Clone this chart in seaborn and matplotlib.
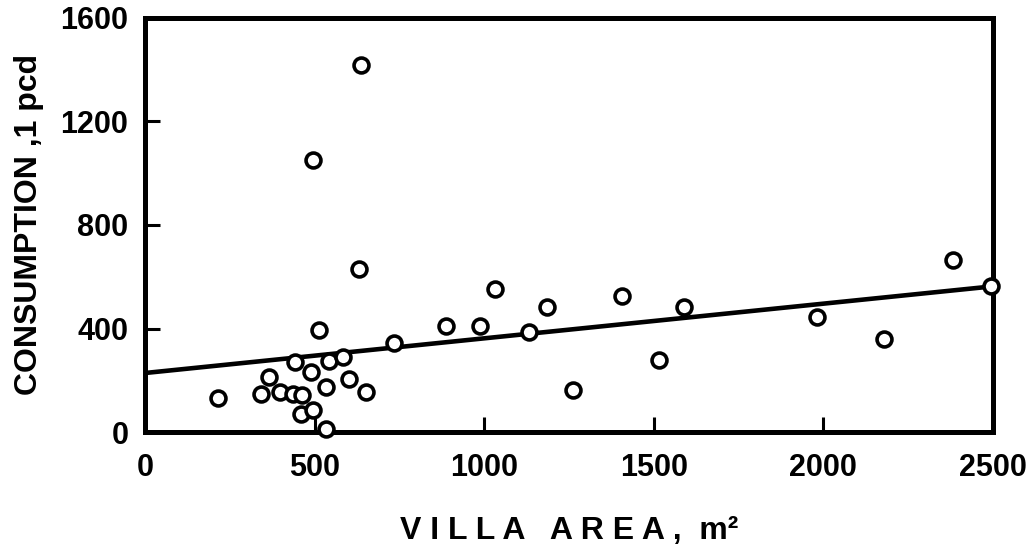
import numpy as np
import pandas as pd
import matplotlib as mpl
import matplotlib.pyplot as plt
import seaborn as sns

# villa area (m2) vs per-capita consumption (l pcd)
AREA = [216, 343, 366, 398, 437, 442, 460, 464, 489, 495, 495, 514, 533, 534,
        543, 583, 602, 631, 637, 651, 734, 888, 987, 1032, 1131, 1185, 1262,
        1406, 1516, 1589, 1981, 2180, 2383, 2493]
CONSUMPTION = [132, 147, 214, 153, 145, 270, 68, 142, 230, 85, 1050, 393, 12, 173,
               276, 288, 203, 630, 1420, 153, 343, 410, 411, 553, 386, 485, 164,
               526, 280, 485, 446, 359, 664, 565]
# fitted line end points
FIT_X = [0, 2500]
FIT_Y = [228, 563]

X_TICKS = [0, 500, 1000, 1500, 2000, 2500]
Y_TICKS = [0, 400, 800, 1200, 1600]

df = pd.DataFrame({"area": AREA, "consumption": CONSUMPTION})
fit = pd.DataFrame({"area": FIT_X, "consumption": FIT_Y})

sns.set_theme(style="ticks")
mpl.rcParams.update(
    {
        "font.family": ["Liberation Sans", "DejaVu Sans"],
        "font.weight": "bold",
        "text.color": "black",
        "axes.labelcolor": "black",
        "axes.edgecolor": "black",
        "xtick.color": "black",
        "ytick.color": "black",
        "axes.linewidth": 3.6,
    }
)

fig = plt.figure(figsize=(10.26, 5.55), dpi=100)
ax = fig.add_axes([0.1413, 0.2216, 0.8265, 0.746])

sns.lineplot(data=fit, x="area", y="consumption", color="black", linewidth=3.3, ax=ax, zorder=2)
sns.scatterplot(
    data=df,
    x="area",
    y="consumption",
    s=115,
    marker="o",
    facecolor="white",
    edgecolor="black",
    linewidth=2.6,
    clip_on=False,
    zorder=3,
    ax=ax,
)

ax.set_xlim(0, 2500)
ax.set_ylim(0, 1600)
ax.set_xticks(X_TICKS)
ax.set_yticks(Y_TICKS)
ax.tick_params(axis="both", direction="in", length=11, width=2.2, labelsize=22)
ax.tick_params(axis="x", pad=15)
ax.tick_params(axis="y", pad=12)
for lab in ax.get_xticklabels() + ax.get_yticklabels():
    lab.set_fontweight("bold")

ax.set_xlabel("V I L L A   A R E A ,  m²", fontsize=23, fontweight="bold", labelpad=24)
ax.set_ylabel("CONSUMPTION ,1 pcd", fontsize=23, fontweight="bold", labelpad=12)

for side in ("top", "right", "left", "bottom"):
    ax.spines[side].set_visible(True)
    ax.spines[side].set_linewidth(3.6)

fig.savefig("out.png", dpi=100, facecolor="white")
